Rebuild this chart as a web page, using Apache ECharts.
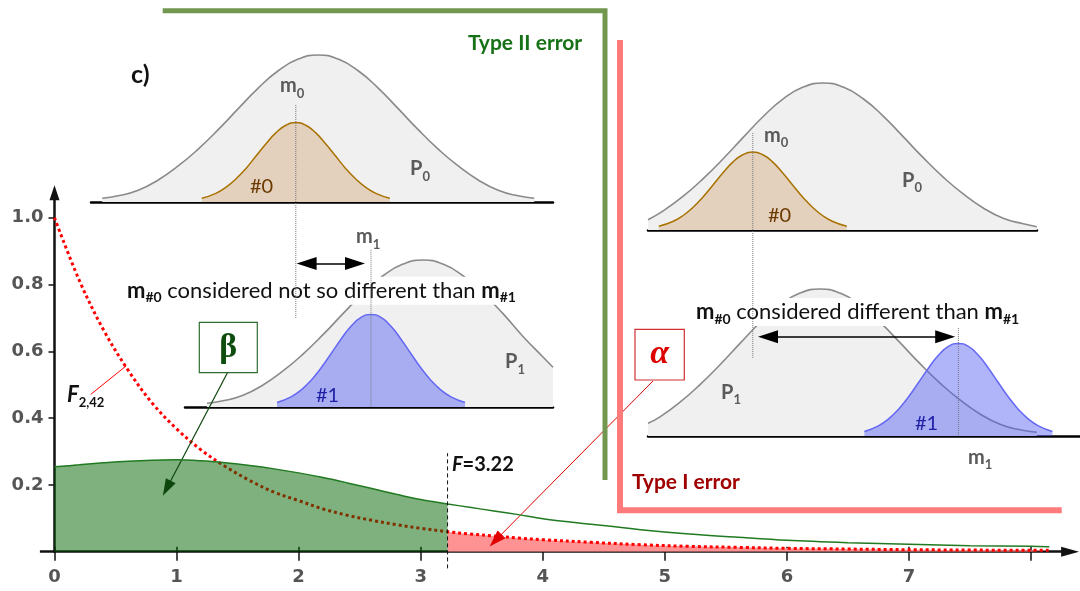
<!DOCTYPE html>
<html>
<head>
<meta charset="utf-8">
<script src="https://cdn.jsdelivr.net/npm/echarts@6/dist/echarts.min.js"></script>
<style>
  html, body { margin: 0; padding: 0; background: #ffffff; }
  #chart { width: 1080px; height: 591px; }
</style>
</head>
<body>
<div id="chart"></div>
<script>
// ---------- F distribution (main axes) ----------
const F_X = [0, 0.2, 0.4, 0.6, 0.8, 1.0, 1.2, 1.4, 1.6, 1.8, 2.0, 2.2, 2.4, 2.6, 2.8, 3.0, 3.22,
             3.4, 3.6, 3.8, 4.0, 4.4, 4.8, 5.2, 5.6, 6.0, 6.5, 7.0, 7.5, 8.0, 8.15];
// density of F(2,42) under H0
const NULL_DENSITY = [1.000, 0.815, 0.665, 0.545, 0.445, 0.368, 0.305, 0.255, 0.213, 0.178, 0.153, 0.128,
                      0.109, 0.094, 0.081, 0.070, 0.060, 0.053, 0.047, 0.041, 0.036, 0.028, 0.021, 0.016,
                      0.013, 0.010, 0.008, 0.006, 0.005, 0.004, 0.004];
// density of the statistic under the alternative
const ALT_DENSITY = [0.254, 0.260, 0.266, 0.271, 0.274, 0.275, 0.272, 0.266, 0.258, 0.248, 0.236, 0.222,
                     0.206, 0.189, 0.172, 0.156, 0.143, 0.133, 0.122, 0.111, 0.099, 0.082, 0.066, 0.053,
                     0.043, 0.034, 0.027, 0.022, 0.018, 0.016, 0.015];
const F_CRIT = 3.22;
const X_TICK_LABELS = [0, 1, 2, 3, 4, 5, 6, 7];
const X_TICKS = [0, 1, 2, 3, 4, 5, 6, 7, 8];
const Y_TICKS = [0.2, 0.4, 0.6, 0.8, 1.0];

// ---------- sketch panels: x in measurement units, y relative density ----------
const A_POP = [[0.28,0.026],[0.68,0.042],[1.18,0.080],[1.68,0.150],[2.18,0.245],[2.68,0.360],[3.18,0.492],
  [3.68,0.635],[4.18,0.775],[4.68,0.893],[5.18,0.972],[5.68,1.000],[6.18,0.972],[6.68,0.893],[7.18,0.775],
  [7.68,0.635],[8.18,0.492],[8.68,0.360],[9.18,0.245],[9.68,0.150],[10.18,0.080],[10.68,0.042],[11.08,0.026]];
const A_SAMPLE = [[2.77,0.025],[3.12,0.059],[3.37,0.099],[3.62,0.156],[3.87,0.227],[4.12,0.311],[4.37,0.395],
  [4.62,0.470],[4.87,0.522],[5.12,0.540],[5.37,0.522],[5.62,0.470],[5.87,0.395],[6.12,0.311],[6.37,0.227],
  [6.62,0.156],[6.87,0.099],[7.12,0.059],[7.47,0.025]];
const A_MEAN = 5.12;

const B_POP = [[0.55,0.026],[0.95,0.042],[1.45,0.080],[1.95,0.150],[2.45,0.245],[2.95,0.360],[3.45,0.492],
  [3.95,0.635],[4.45,0.775],[4.95,0.893],[5.45,0.972],[5.95,1.000],[6.45,0.972],[6.95,0.893],[7.45,0.775],
  [7.95,0.635],[8.45,0.480],[8.95,0.340],[9.20,0.270]];
const B_SAMPLE = [[2.30,0.030],[2.65,0.069],[2.90,0.115],[3.15,0.181],[3.40,0.265],[3.65,0.362],[3.90,0.461],
  [4.15,0.549],[4.40,0.609],[4.65,0.630],[4.90,0.609],[5.15,0.549],[5.40,0.461],[5.65,0.362],[5.90,0.265],
  [6.15,0.181],[6.40,0.115],[6.65,0.069],[7.00,0.030]];
const B_MEAN = 4.65;
const B_SHIFT = [2.79, 4.50];

const C_POP = [[0,0.070],[0.38,0.130],[0.88,0.230],[1.38,0.350],[1.88,0.485],[2.38,0.630],[2.88,0.772],
  [3.38,0.892],[3.88,0.972],[4.38,1.000],[4.88,0.972],[5.38,0.893],[5.88,0.775],[6.38,0.635],[6.88,0.492],
  [7.38,0.360],[7.88,0.245],[8.38,0.150],[8.88,0.080],[9.38,0.042],[9.72,0.022]];
const C_SAMPLE = [[0.27,0.025],[0.62,0.058],[0.87,0.097],[1.12,0.153],[1.37,0.223],[1.62,0.305],[1.87,0.388],
  [2.12,0.462],[2.37,0.512],[2.62,0.530],[2.87,0.512],[3.12,0.462],[3.37,0.388],[3.62,0.305],[3.87,0.223],
  [4.12,0.153],[4.37,0.097],[4.62,0.058],[4.97,0.025]];
const C_MEAN = 2.62;

const D_POP = [[0,0.086],[0.30,0.130],[0.80,0.230],[1.30,0.350],[1.80,0.485],[2.30,0.630],[2.80,0.772],
  [3.30,0.892],[3.80,0.972],[4.30,1.000],[4.80,0.972],[5.30,0.893],[5.80,0.775],[6.30,0.635],[6.80,0.492],
  [7.30,0.360],[7.80,0.245],[8.30,0.150],[8.80,0.080],[9.30,0.042],[9.72,0.025]];
const D_SAMPLE = [[5.41,0.030],[5.76,0.069],[6.01,0.115],[6.26,0.181],[6.51,0.265],[6.76,0.362],[7.01,0.461],
  [7.26,0.549],[7.51,0.609],[7.76,0.630],[8.01,0.609],[8.26,0.549],[8.51,0.461],[8.76,0.362],[9.01,0.265],
  [9.26,0.181],[9.51,0.115],[9.76,0.069],[10.11,0.030]];
const D_MEAN = 7.76;
const D_SHIFT = [2.75, 7.68];

// ---------- layout ----------
const FONT = 'Lato';
const TICK_FONT = 'DejaVu Sans';
const UNIT_PX = 40;      // pixels per measurement unit in the panels
const HEIGHT_PX = 147;   // pixels per unit of relative density
const PANEL_YMAX = 1.2;
const HEAD = 20;         // arrow head length (px)

const panels = [
  { left: 91,  base: 202, width: 462, pop: A_POP, sample: A_SAMPLE, mean: A_MEAN, meanSpan: [0.66, -0.79], kind: 'null' },
  { left: 185, base: 407, width: 368, pop: B_POP, sample: B_SAMPLE, mean: B_MEAN, meanSpan: [1.07, 0], kind: 'alt', shift: B_SHIFT, shiftY: 0.977 },
  { left: 648, base: 230, width: 389, pop: C_POP, sample: C_SAMPLE, mean: C_MEAN, meanSpan: [0.66, -0.87], kind: 'null' },
  { left: 648, base: 436, width: 432, pop: D_POP, sample: D_SAMPLE, mean: D_MEAN, meanSpan: [0.735, 0], kind: 'alt', shift: D_SHIFT, shiftY: 0.675 }
];
const SAMPLE_STYLE = {
  null: { line: '#a87200', fill: 'rgba(200,140,80,0.32)' },
  alt:  { line: '#6468f2', fill: 'rgba(80,90,245,0.45)' }
};

const X_MAX = 8.32, Y_MAX = 1.075;
const grids = [{ left: 54.5, top: 192.65, width: 1015.6, height: 359.05, outerBoundsMode: 'none' }];
const tickLabel = { fontFamily: TICK_FONT, fontWeight: 'bold', fontSize: 18, color: '#555' };
const xAxes = [
  {
    type: 'value', gridIndex: 0, min: 0, max: X_MAX,
    axisLine: { symbol: ['none', 'triangle'], symbolSize: [10, 18], lineStyle: { color: '#111', width: 2.5 } },
    axisTick: { customValues: X_TICKS, length: 9, lineStyle: { color: '#111', width: 1.5 } },
    axisLabel: Object.assign({ customValues: X_TICK_LABELS, margin: 17 }, tickLabel),
    splitLine: { show: false }
  },
  {
    type: 'value', gridIndex: 0, min: 0, max: X_MAX, position: 'bottom',
    axisLine: { show: false },
    axisTick: { customValues: X_TICKS, inside: true, length: 5, lineStyle: { color: '#111', width: 1.5 } },
    axisLabel: { show: false },
    splitLine: { show: false }
  }
];
const yAxes = [
  {
    type: 'value', gridIndex: 0, min: 0, max: Y_MAX,
    axisLine: { symbol: ['none', 'triangle'], symbolSize: [10, 15], lineStyle: { color: '#111', width: 2.5 } },
    axisTick: { customValues: Y_TICKS, length: 6, lineStyle: { color: '#111', width: 1.5 } },
    axisLabel: Object.assign({ customValues: Y_TICKS, margin: 11, formatter: v => v.toFixed(1) }, tickLabel),
    splitLine: { show: false }
  },
  {
    // short stub of the horizontal axis reaching left of the origin
    type: 'value', gridIndex: 0, min: 0, max: Y_MAX, position: 'left',
    axisLine: { show: false },
    axisTick: { customValues: [0], length: 14.6, lineStyle: { color: '#111', width: 2.5 } },
    axisLabel: { show: false },
    splitLine: { show: false }
  }
];

const pairs = ys => F_X.map((x, i) => [x, ys[i]]);
const nullPts = pairs(NULL_DENSITY);
const altPts = pairs(ALT_DENSITY);
const critIdx = F_X.indexOf(F_CRIT);
const SMOOTH = 0.35;

const series = [
  { name: 'alpha', type: 'line', xAxisIndex: 0, yAxisIndex: 0, data: nullPts.slice(critIdx),
    smooth: SMOOTH, showSymbol: false, silent: true, z: 2,
    lineStyle: { width: 0, opacity: 0 }, areaStyle: { color: '#ff9292', opacity: 1 } },
  { name: 'F(2,42)', type: 'line', xAxisIndex: 0, yAxisIndex: 0, data: nullPts,
    smooth: SMOOTH, showSymbol: false, silent: true, z: 3,
    lineStyle: { color: '#ff0000', width: 3, type: 'dotted' } },
  { name: 'beta', type: 'line', xAxisIndex: 0, yAxisIndex: 0, data: altPts.slice(0, critIdx + 1),
    smooth: SMOOTH, showSymbol: false, silent: true, z: 4,
    lineStyle: { width: 0, opacity: 0 }, areaStyle: { color: 'rgba(0,100,0,0.5)', opacity: 1 } },
  { name: 'alternative', type: 'line', xAxisIndex: 0, yAxisIndex: 0, data: altPts,
    smooth: SMOOTH, showSymbol: false, silent: true, z: 5,
    lineStyle: { color: '#217a21', width: 1.5 } },
  { name: 'critical value', type: 'line', xAxisIndex: 0, yAxisIndex: 0, clip: false,
    data: [[F_CRIT, -0.05], [F_CRIT, 0.295]], showSymbol: false, silent: true, z: 6,
    lineStyle: { color: '#111', width: 1, type: [4, 3] } },
  { name: 'pointers', type: 'line', xAxisIndex: 0, yAxisIndex: 0, data: [], z: 6,
    markLine: {
      silent: true, label: { show: false }, symbol: ['none', 'triangle'], symbolSize: [11, 17],
      data: [
        [{ coord: [1.42, 0.538], lineStyle: { color: '#0d470d', width: 1.2, type: 'solid' } }, { coord: [0.92, 0.19] }],
        [{ coord: [4.903, 0.511], lineStyle: { color: '#e00000', width: 1, type: 'solid' } }, { coord: [3.613, 0.034] }],
        [{ coord: [0.297, 0.471], symbol: 'none', lineStyle: { color: '#ff0000', width: 1, type: 'solid' } },
         { coord: [0.586, 0.556], symbol: 'none' }]
      ]
    } }
];

panels.forEach((p, i) => {
  const gi = i + 1;
  const xi = xAxes.length;
  const yi = yAxes.length;
  grids.push({ left: p.left, top: p.base - HEIGHT_PX * PANEL_YMAX, width: p.width,
               height: HEIGHT_PX * PANEL_YMAX, outerBoundsMode: 'none' });
  xAxes.push({ type: 'value', gridIndex: gi, min: 0, max: p.width / UNIT_PX,
               axisLine: { onZero: false, lineStyle: { color: '#000', width: 2.5 } },
               axisTick: { show: false }, axisLabel: { show: false }, splitLine: { show: false } });
  yAxes.push({ type: 'value', gridIndex: gi, min: 0, max: PANEL_YMAX, show: false });
  const st = SAMPLE_STYLE[p.kind];
  series.push({ type: 'line', xAxisIndex: xi, yAxisIndex: yi, data: p.pop, smooth: true,
                showSymbol: false, silent: true, z: 3,
                lineStyle: { color: '#8a8a8a', width: 1.6 }, areaStyle: { color: '#f0f0f0', opacity: 1 } });
  series.push({ type: 'line', xAxisIndex: xi, yAxisIndex: yi, data: p.sample, smooth: true,
                showSymbol: false, silent: true, z: 4,
                lineStyle: { color: st.line, width: 1.5 }, areaStyle: { color: st.fill, opacity: 1 } });
  const guide = { type: 'line', xAxisIndex: xi, yAxisIndex: yi, clip: false, showSymbol: false, silent: true,
                  z: 110, data: [[p.mean, p.meanSpan[0]], [p.mean, p.meanSpan[1]]],
                  lineStyle: { color: '#777', width: 1, type: 'dotted' } };
  if (p.shift) {
    const h = HEAD / 2 / UNIT_PX;
    guide.markLine = {
      silent: true, label: { show: false }, symbol: ['triangle', 'triangle'], symbolSize: [13, HEAD],
      lineStyle: { color: '#000', width: 1.5, type: 'solid' },
      data: [[{ coord: [p.shift[0] + h, p.shiftY] }, { coord: [p.shift[1] - h, p.shiftY] }]]
    };
  }
  series.push(guide);
});

// ---------- text and frames ----------
function rich(size, color, subSize) {
  return {
    b: { fontFamily: FONT, fontSize: size, fontWeight: 'bold', fill: color, lineHeight: 28, verticalAlign: 'middle' },
    n: { fontFamily: FONT, fontSize: size, fontWeight: 'normal', fill: color, lineHeight: 28, verticalAlign: 'middle' },
    i: { fontFamily: FONT, fontSize: size, fontWeight: 'bold', fontStyle: 'italic', fill: color, lineHeight: 28, verticalAlign: 'middle' },
    s: { fontFamily: FONT, fontSize: subSize || 13, fontWeight: 'bold', fill: color, lineHeight: 12, verticalAlign: 'bottom' }
  };
}
function label(x, y, text, size, color, extra, subSize) {
  return {
    type: 'text', x, y, z: 100, silent: true,
    style: Object.assign({ text, rich: rich(size, color, subSize), fill: color, fontFamily: FONT, fontSize: size,
                           align: 'left', verticalAlign: 'middle' }, extra || {})
  };
}
const GRAY = '#5a5a5a';
const graphics = [
  { type: 'polyline', z: 50, silent: true, shape: { points: [[162.7, 10.8], [605, 10.8], [605, 480]] },
    style: { stroke: '#72984f', lineWidth: 5, fill: null, lineJoin: 'miter' } },
  { type: 'polyline', z: 50, silent: true, shape: { points: [[620, 40], [620, 510.3], [1061.7, 510.3]] },
    style: { stroke: '#ff7a7a', lineWidth: 6, fill: null, lineJoin: 'miter' } },
  label(468, 43, '{b|Type II error}', 21, '#177217'),
  label(632, 482, '{b|Type I error}', 21, '#a00000'),
  label(131, 75, '{b|c)}', 25, '#111'),
  label(280, 86, '{b|m}{s|0}', 20, GRAY),
  label(250, 187, '{n|#0}', 20, '#6b3a00'),
  label(410, 169, '{b|P}{s|0}', 20, GRAY),
  label(356, 237, '{b|m}{s|1}', 20, GRAY),
  label(316, 395.7, '{n|#1}', 20, '#1f1fa5'),
  label(505, 362, '{b|P}{s|1}', 20, GRAY),
  label(124, 290.7, '{b|m}{s|#0}{n| considered not so different than }{b|m}{s|#1}', 22, '#111',
        { backgroundColor: '#ffffff', padding: [0, 3] }, 14),
  label(764, 135.7, '{b|m}{s|0}', 20, GRAY),
  label(768, 215.7, '{n|#0}', 20, '#6b3a00'),
  label(902, 180.7, '{b|P}{s|0}', 20, GRAY),
  label(721, 392.3, '{b|P}{s|1}', 20, GRAY),
  label(915, 424, '{n|#1}', 20, '#1f1fa5'),
  label(968, 457.3, '{b|m}{s|1}', 20, GRAY),
  label(693, 312, '{b|m}{s|#0}{n| considered different than }{b|m}{s|#1}', 22, '#111',
        { backgroundColor: '#ffffff', padding: [0, 3] }, 14),
  label(452, 465, '{i|F}{b|=' + F_CRIT + '}', 20, '#111'),
  label(67, 395, '{i|F}{s|2,42}', 22, '#111'),
  { type: 'rect', z: 100, silent: true, shape: { x: 199.3, y: 322.3, width: 58, height: 50.4 },
    style: { fill: '#fff', stroke: '#2f6b2f', lineWidth: 1.2 } },
  { type: 'text', z: 101, silent: true, x: 228.3, y: 348,
    style: { text: 'β', fill: '#0e4d0e', font: 'bold 34px "Liberation Serif"', align: 'center', verticalAlign: 'middle' } },
  { type: 'rect', z: 100, silent: true, shape: { x: 635, y: 329.3, width: 49.3, height: 50.7 },
    style: { fill: '#fff', stroke: '#d03030', lineWidth: 1.2 } },
  { type: 'text', z: 101, silent: true, x: 659.6, y: 354,
    style: { text: 'α', fill: '#dd0000', font: 'bold italic 34px "Liberation Serif"', align: 'center', verticalAlign: 'middle' } }
];

const chart = echarts.init(document.getElementById('chart'), null, { renderer: 'canvas' });
chart.setOption({
  animation: false,
  backgroundColor: '#ffffff',
  grid: grids,
  xAxis: xAxes,
  yAxis: yAxes,
  series: series,
  graphic: { elements: graphics }
});
</script>
</body>
</html>
